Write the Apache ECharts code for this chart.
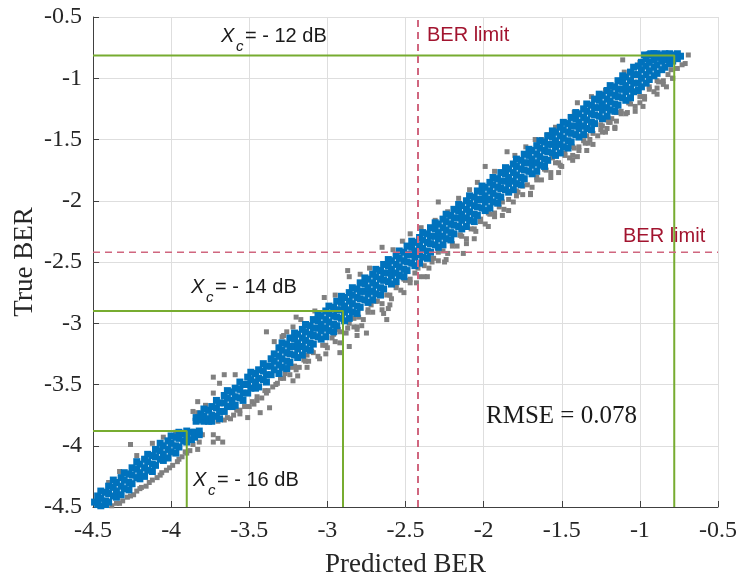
<!DOCTYPE html>
<html>
<head>
<meta charset="utf-8">
<script src="https://cdn.jsdelivr.net/npm/echarts@6/dist/echarts.min.js"></script>
<style>
  html, body { margin: 0; padding: 0; background: #ffffff; }
  #chart { width: 741px; height: 575px; }
</style>
</head>
<body>
<div id="chart"></div>
<script>
// Axis range shared by both axes (log10 BER)
const axisMin = -4.5;
const axisMax = -0.5;
const axisStep = 0.5;

// Validation samples: each row is [predicted, true, true, ...] sharing one predicted value
const blueRows = [
  [-4.49, -4.46],
  [-4.47, -4.48, -4.41],
  [-4.45, -4.49, -4.43, -4.37],
  [-4.42, -4.48, -4.45, -4.38],
  [-4.40, -4.46, -4.39, -4.33],
  [-4.37, -4.41, -4.34, -4.28],
  [-4.35, -4.42, -4.37, -4.30],
  [-4.32, -4.40, -4.33, -4.26],
  [-4.30, -4.35, -4.28, -4.22],
  [-4.27, -4.36, -4.30, -4.23],
  [-4.25, -4.31, -4.24, -4.18],
  [-4.22, -4.26, -4.19, -4.13],
  [-4.20, -4.27, -4.22, -4.15],
  [-4.17, -4.25, -4.18, -4.11],
  [-4.15, -4.20, -4.13, -4.07],
  [-4.12, -4.21, -4.15, -4.08],
  [-4.10, -4.16, -4.09, -4.03],
  [-4.07, -4.11, -4.04, -3.98],
  [-4.05, -4.12, -4.07, -4.00],
  [-4.02, -4.10, -4.03, -3.96],
  [-4.00, -4.05, -3.98, -3.92],
  [-3.97, -4.06, -4.00, -3.93],
  [-3.95, -4.01, -3.94, -3.89],
  [-3.92, -3.96, -3.90],
  [-3.90, -3.97, -3.92, -3.88],
  [-3.87, -3.95, -3.89],
  [-3.85, -3.93, -3.89],
  [-3.82, -3.91, -3.88],
  [-3.84, -3.80, -3.77],
  [-3.81, -3.79, -3.74],
  [-3.79, -3.80, -3.76, -3.70],
  [-3.76, -3.80, -3.78, -3.71],
  [-3.74, -3.80, -3.75, -3.68],
  [-3.71, -3.76, -3.69, -3.63],
  [-3.69, -3.78, -3.72, -3.65],
  [-3.66, -3.72, -3.65, -3.59],
  [-3.64, -3.68, -3.61, -3.55],
  [-3.61, -3.68, -3.63, -3.56],
  [-3.59, -3.67, -3.60, -3.53],
  [-3.56, -3.61, -3.54, -3.48],
  [-3.54, -3.63, -3.57, -3.50],
  [-3.51, -3.57, -3.50, -3.44],
  [-3.49, -3.53, -3.46, -3.40],
  [-3.46, -3.53, -3.48, -3.41],
  [-3.44, -3.52, -3.45, -3.38],
  [-3.41, -3.46, -3.39, -3.33],
  [-3.39, -3.48, -3.42, -3.35],
  [-3.36, -3.42, -3.35, -3.29],
  [-3.34, -3.38, -3.31, -3.25],
  [-3.31, -3.41, -3.34, -3.27, -3.20],
  [-3.29, -3.36, -3.29, -3.22, -3.16],
  [-3.26, -3.37, -3.31, -3.24, -3.17],
  [-3.24, -3.32, -3.25, -3.19, -3.12],
  [-3.21, -3.26, -3.19, -3.13, -3.08],
  [-3.19, -3.28, -3.21, -3.16, -3.09],
  [-3.16, -3.26, -3.19, -3.12, -3.05],
  [-3.14, -3.21, -3.14, -3.07, -3.01],
  [-3.11, -3.22, -3.16, -3.09, -3.02],
  [-3.09, -3.17, -3.10, -3.04, -2.97],
  [-3.06, -3.11, -3.04, -2.98, -2.93],
  [-3.04, -3.13, -3.06, -3.01, -2.94],
  [-3.01, -3.11, -3.04, -2.97, -2.90],
  [-2.99, -3.06, -2.99, -2.92, -2.86],
  [-2.96, -3.07, -3.01, -2.94, -2.87],
  [-2.94, -3.02, -2.95, -2.89, -2.82],
  [-2.91, -2.96, -2.89, -2.83, -2.78],
  [-2.89, -2.98, -2.91, -2.86, -2.79],
  [-2.86, -2.96, -2.89, -2.82, -2.75],
  [-2.84, -2.91, -2.84, -2.77, -2.71],
  [-2.81, -2.92, -2.86, -2.79, -2.72],
  [-2.79, -2.87, -2.80, -2.74, -2.67],
  [-2.76, -2.81, -2.74, -2.68, -2.63],
  [-2.74, -2.83, -2.76, -2.71, -2.64],
  [-2.71, -2.81, -2.74, -2.67, -2.60],
  [-2.69, -2.76, -2.69, -2.62, -2.56],
  [-2.66, -2.77, -2.71, -2.64, -2.57],
  [-2.64, -2.72, -2.65, -2.59, -2.52],
  [-2.61, -2.66, -2.59, -2.53, -2.48],
  [-2.59, -2.68, -2.61, -2.56, -2.49],
  [-2.56, -2.66, -2.59, -2.52, -2.45],
  [-2.54, -2.61, -2.54, -2.47, -2.41],
  [-2.51, -2.62, -2.56, -2.49, -2.42],
  [-2.49, -2.57, -2.50, -2.44, -2.37],
  [-2.46, -2.51, -2.44, -2.38, -2.33],
  [-2.44, -2.53, -2.46, -2.41, -2.34],
  [-2.41, -2.51, -2.44, -2.37, -2.30],
  [-2.39, -2.46, -2.39, -2.32, -2.26],
  [-2.36, -2.47, -2.41, -2.34, -2.27],
  [-2.34, -2.42, -2.35, -2.29, -2.22],
  [-2.31, -2.36, -2.29, -2.23, -2.18],
  [-2.29, -2.38, -2.31, -2.26, -2.19],
  [-2.26, -2.36, -2.29, -2.22, -2.15],
  [-2.24, -2.31, -2.24, -2.17, -2.11],
  [-2.21, -2.32, -2.26, -2.19, -2.12],
  [-2.19, -2.27, -2.20, -2.14, -2.07],
  [-2.16, -2.21, -2.14, -2.08, -2.03],
  [-2.14, -2.23, -2.16, -2.11, -2.04],
  [-2.11, -2.21, -2.14, -2.07, -2.00],
  [-2.09, -2.16, -2.09, -2.02, -1.96],
  [-2.06, -2.17, -2.11, -2.04, -1.97],
  [-2.04, -2.12, -2.05, -1.99, -1.92],
  [-2.01, -2.06, -1.99, -1.93, -1.88],
  [-1.99, -2.08, -2.01, -1.96, -1.89],
  [-1.96, -2.06, -1.99, -1.92, -1.85],
  [-1.94, -2.01, -1.94, -1.87, -1.81],
  [-1.91, -2.02, -1.96, -1.89, -1.82],
  [-1.89, -1.97, -1.90, -1.84, -1.77],
  [-1.86, -1.91, -1.84, -1.78, -1.73],
  [-1.84, -1.93, -1.86, -1.81, -1.74],
  [-1.81, -1.91, -1.84, -1.77, -1.70],
  [-1.79, -1.86, -1.79, -1.72, -1.66],
  [-1.76, -1.87, -1.81, -1.74, -1.67],
  [-1.74, -1.82, -1.75, -1.69, -1.62],
  [-1.71, -1.76, -1.69, -1.63, -1.58],
  [-1.69, -1.78, -1.71, -1.66, -1.59],
  [-1.66, -1.76, -1.69, -1.62, -1.55],
  [-1.64, -1.71, -1.64, -1.57, -1.51],
  [-1.61, -1.72, -1.66, -1.59, -1.52],
  [-1.59, -1.67, -1.60, -1.54, -1.47],
  [-1.56, -1.61, -1.54, -1.48, -1.43],
  [-1.54, -1.63, -1.56, -1.51, -1.44],
  [-1.51, -1.61, -1.54, -1.47, -1.40],
  [-1.49, -1.56, -1.49, -1.42, -1.36],
  [-1.46, -1.57, -1.51, -1.44, -1.37],
  [-1.44, -1.52, -1.45, -1.39, -1.32],
  [-1.41, -1.46, -1.39, -1.33, -1.28],
  [-1.39, -1.48, -1.41, -1.36, -1.29],
  [-1.36, -1.46, -1.39, -1.32, -1.25],
  [-1.34, -1.41, -1.34, -1.27, -1.21],
  [-1.31, -1.42, -1.36, -1.29, -1.22],
  [-1.29, -1.37, -1.30, -1.24, -1.17],
  [-1.26, -1.31, -1.24, -1.18, -1.13],
  [-1.24, -1.33, -1.26, -1.21, -1.14],
  [-1.21, -1.31, -1.24, -1.17, -1.10],
  [-1.19, -1.26, -1.19, -1.12, -1.06],
  [-1.16, -1.27, -1.21, -1.14, -1.07],
  [-1.14, -1.22, -1.15, -1.09, -1.02],
  [-1.11, -1.16, -1.09, -1.03, -0.98],
  [-1.09, -1.18, -1.11, -1.06, -0.99],
  [-1.06, -1.16, -1.09, -1.02, -0.95],
  [-1.04, -1.11, -1.04, -0.97, -0.91],
  [-1.01, -1.10, -1.04, -0.97, -0.90],
  [-0.99, -1.07, -1.00, -0.93, -0.87],
  [-0.97, -0.81],
  [-0.96, -1.04, -0.97, -0.90, -0.84],
  [-0.94, -1.01, -0.94, -0.87, -0.81],
  [-0.93, -0.80],
  [-0.91, -0.98, -0.91, -0.85, -0.80],
  [-0.89, -0.96, -0.89, -0.83, -0.80],
  [-0.86, -0.93, -0.86, -0.81],
  [-0.84, -0.91, -0.85, -0.80],
  [-0.81, -0.88, -0.83, -0.80],
  [-0.79, -0.86, -0.81],
  [-0.76, -0.84, -0.80],
  [-0.74, -0.82]
];

// Full test set: [predicted, true]
const grayPoints = [
  [-4.38, -4.49], [-4.35, -4.47], [-4.31, -4.45], [-4.28, -4.42], [-4.24, -4.40],
  [-4.20, -4.35], [-4.19, -4.34], [-4.16, -4.33], [-4.12, -4.28], [-4.09, -4.26],
  [-4.06, -4.22], [-4.01, -4.18], [-3.99, -4.16], [-3.96, -4.13], [-3.93, -4.09],
  [-3.90, -4.06], [-3.88, -4.04], [-3.86, -3.99], [-3.83, -4.03], [-3.82, -3.97],
  [-3.80, -3.91], [-3.73, -3.91], [-3.73, -3.97], [-3.70, -3.94], [-3.67, -3.97],
  [-4.33, -4.47], [-4.26, -4.41], [-4.22, -4.37], [-4.14, -4.30], [-4.07, -4.24],
  [-4.03, -4.20], [-3.95, -4.11], [-3.91, -4.05],
  [-4.40, -4.30], [-4.33, -4.21], [-4.26, -3.99], [-4.22, -4.08], [-4.12, -3.98],
  [-4.05, -3.93], [-3.97, -3.89],
  [-3.73, -3.44], [-3.66, -3.42], [-3.59, -3.42], [-3.69, -3.49], [-3.73, -3.57],
  [-3.83, -3.64], [-3.78, -3.67], [-3.86, -3.72], [-3.83, -3.73], [-3.43, -3.73],
  [-3.51, -3.77], [-3.37, -3.69], [-3.62, -3.78], [-3.56, -3.74], [-3.48, -3.64],
  [-3.45, -3.60], [-3.40, -3.55], [-3.35, -3.52], [-3.53, -3.68], [-3.58, -3.71],
  [-3.66, -3.79], [-3.70, -3.80], [-3.56, -3.71], [-3.45, -3.63], [-3.39, -3.57],
  [-3.32, -3.49], [-3.50, -3.68],
  [-3.64, -3.77], [-3.60, -3.75], [-3.47, -3.66], [-3.42, -3.61], [-3.38, -3.55],
  [-3.33, -3.50],
  [-3.39, -3.07], [-3.34, -3.15], [-3.29, -3.11], [-3.26, -3.07], [-3.22, -3.03],
  [-3.20, -2.95], [-3.13, -3.36], [-3.20, -3.38], [-2.86, -3.19], [-2.81, -3.03],
  [-2.64, -2.92], [-2.62, -2.97], [-2.92, -3.24],
  [-3.30, -3.45], [-3.27, -3.41], [-3.24, -3.42], [-3.21, -3.35], [-3.18, -3.36],
  [-3.15, -3.30], [-3.12, -3.31], [-3.09, -3.24], [-3.06, -3.27], [-3.03, -3.18],
  [-3.00, -3.20], [-2.97, -3.12], [-2.95, -3.15], [-2.92, -3.07], [-2.88, -3.08],
  [-2.86, -3.00], [-2.83, -3.03], [-2.80, -2.95], [-2.77, -2.97], [-2.74, -2.89],
  [-2.71, -2.91], [-2.68, -2.82], [-2.65, -2.84], [-2.62, -2.77], [-2.59, -2.80],
  [-2.56, -2.71], [-2.53, -2.73], [-2.50, -2.65], [-2.47, -2.67], [-2.44, -2.59],
  [-2.41, -2.62], [-2.38, -2.53], [-2.35, -2.55], [-2.32, -2.47], [-2.29, -2.49],
  [-2.26, -2.41], [-2.23, -2.43], [-2.20, -2.35], [-2.17, -2.37], [-2.14, -2.29],
  [-2.11, -2.31], [-2.08, -2.23], [-2.05, -2.25], [-2.02, -2.17], [-1.99, -2.19],
  [-1.96, -2.11], [-1.93, -2.13], [-1.90, -2.05], [-1.87, -2.07], [-1.84, -1.99],
  [-1.81, -2.01], [-1.78, -1.93], [-1.75, -1.95], [-1.72, -1.87], [-1.69, -1.89],
  [-1.66, -1.81], [-1.63, -1.83], [-1.60, -1.75], [-1.57, -1.77], [-1.54, -1.69],
  [-1.51, -1.71], [-1.48, -1.63], [-1.45, -1.65], [-1.42, -1.57], [-1.39, -1.59],
  [-1.36, -1.51], [-1.33, -1.53], [-1.30, -1.45], [-1.27, -1.47], [-1.24, -1.39],
  [-1.21, -1.41], [-1.18, -1.33], [-1.15, -1.35], [-1.12, -1.27], [-1.09, -1.29],
  [-1.06, -1.21], [-1.03, -1.23], [-1.00, -1.15], [-0.97, -1.17], [-0.94, -1.09],
  [-0.91, -1.11], [-0.88, -1.03], [-0.85, -1.05], [-0.82, -0.97], [-0.79, -1.00],
  [-0.76, -0.92], [-0.73, -0.89],
  [-3.28, -3.45], [-3.23, -3.36], [-3.19, -3.43], [-3.14, -3.31], [-3.10, -3.23],
  [-3.05, -3.29], [-3.01, -3.18], [-2.96, -3.09], [-2.92, -3.16], [-2.87, -3.04],
  [-2.83, -2.96], [-2.78, -3.02], [-2.74, -2.91], [-2.69, -2.82], [-2.65, -2.89],
  [-2.60, -2.77], [-2.56, -2.69], [-2.51, -2.75], [-2.47, -2.64], [-2.42, -2.55],
  [-2.38, -2.62], [-2.33, -2.50], [-2.29, -2.42], [-2.24, -2.48], [-2.20, -2.37],
  [-2.15, -2.28], [-2.11, -2.35], [-2.06, -2.23], [-2.02, -2.15], [-1.97, -2.21],
  [-1.93, -2.10], [-1.88, -2.01], [-1.84, -2.08], [-1.79, -1.96], [-1.75, -1.88],
  [-1.70, -1.94], [-1.66, -1.83], [-1.61, -1.74], [-1.57, -1.81], [-1.52, -1.69],
  [-1.48, -1.61], [-1.43, -1.67], [-1.39, -1.56], [-1.34, -1.47], [-1.30, -1.54],
  [-1.25, -1.42], [-1.21, -1.34], [-1.16, -1.40], [-1.12, -1.29], [-1.07, -1.20],
  [-1.03, -1.27], [-0.98, -1.15], [-0.94, -1.07], [-0.89, -1.13], [-0.85, -1.02],
  [-0.80, -0.93],
  [-3.22, -3.47], [-3.13, -3.26], [-3.01, -3.25], [-2.93, -3.05], [-2.81, -3.05],
  [-2.72, -2.85], [-2.60, -2.85], [-2.51, -2.64], [-2.43, -2.67], [-2.34, -2.47],
  [-2.25, -2.50], [-2.15, -2.28], [-2.06, -2.31], [-1.97, -2.10], [-1.88, -2.12],
  [-1.79, -1.92], [-1.70, -1.95], [-1.61, -1.74], [-1.52, -1.77], [-1.43, -1.56],
  [-1.34, -1.59], [-1.25, -1.38], [-1.16, -1.41], [-1.07, -1.20], [-0.98, -1.23],
  [-0.89, -1.02], [-0.83, -1.07],
  [-2.36, -2.62], [-2.13, -2.43], [-2.75, -3.08], [-2.61, -2.88], [-2.81, -3.10],
  [-1.24, -1.44], [-1.20, -1.36], [-1.15, -1.28], [-1.32, -1.50], [-1.43, -1.63],
  [-1.40, -1.64], [-1.50, -1.72], [-1.56, -1.65],
  [-3.28, -3.10], [-3.17, -2.97], [-3.08, -2.90], [-3.02, -2.79], [-2.95, -2.77],
  [-2.87, -2.57], [-2.86, -2.62], [-2.79, -2.60], [-2.73, -2.55], [-2.65, -2.38],
  [-2.58, -2.40], [-2.52, -2.33], [-2.47, -2.27], [-2.40, -2.22], [-2.31, -2.16],
  [-2.29, -2.01], [-2.23, -2.09], [-2.16, -1.98], [-2.09, -1.91], [-2.04, -1.85],
  [-1.99, -1.72], [-1.93, -1.76], [-1.85, -1.60], [-1.80, -1.63], [-1.73, -1.56],
  [-1.67, -1.50], [-1.63, -1.50], [-1.59, -1.46], [-1.54, -1.40], [-1.48, -1.36],
  [-1.42, -1.28], [-1.40, -1.20], [-1.31, -1.15], [-1.22, -1.10], [-1.19, -1.11],
  [-1.11, -0.85], [-1.10, -0.95], [-1.00, -0.87], [-0.94, -0.80],
  [-0.69, -0.81], [-0.71, -0.88], [-0.79, -1.00], [-0.89, -1.08], [-0.97, -1.15],
  [-1.00, -1.20], [-1.08, -1.28], [-1.19, -1.36], [-1.22, -1.44], [-1.35, -1.53]
];

// Highest predicted / true BER reached at each OSNR cut-off
const cornerPred = [-0.78, -2.90, -3.90];
const cornerTrue = [-0.815, -2.90, -3.88];
const cornerLabels = ['= - 12 dB', '= - 14 dB', '= - 16 dB'];

// FEC threshold (log10 of 3.8e-3) and fit quality
const berLimit = -2.42;
const berLimitLabel = 'BER limit';
const rmseValue = 0.078;

const blueData = [];
blueRows.forEach(function (row) {
  for (let i = 1; i < row.length; i++) blueData.push([row[0], row[i]]);
});

const green = '#77AC30';
const limitLine = '#d0667f';
const limitText = '#A2142F';
const sans = '"Liberation Sans", Arial, sans-serif';
const serif = '"Liberation Serif", "Times New Roman", serif';

const series = [
  {
    type: 'scatter', data: grayPoints, symbol: 'rect', symbolSize: 5,
    itemStyle: { color: '#808080', opacity: 1 }, silent: true, z: 2
  },
  {
    type: 'scatter', data: blueData, symbol: 'rect', symbolSize: 7,
    itemStyle: { color: '#0072BD', opacity: 1 }, silent: true, z: 3
  }
];

cornerPred.forEach(function (p, i) {
  series.push({
    type: 'line', symbol: 'none', silent: true, z: 4,
    data: [[axisMin, cornerTrue[i]], [p, cornerTrue[i]], [p, axisMin]],
    lineStyle: { color: green, width: 2 }
  });
});

series.push({
  type: 'line', symbol: 'none', silent: true, z: 5,
  data: [[berLimit, axisMin], [berLimit, axisMax]],
  lineStyle: { color: limitLine, width: 2, type: [7, 5] }
});
series.push({
  type: 'line', symbol: 'none', silent: true, z: 5,
  data: [[axisMin, berLimit], [axisMax, berLimit]],
  lineStyle: { color: limitLine, width: 1.5, type: [7, 5] }
});

function txt(str, x, y, size, opts) {
  opts = opts || {};
  return {
    type: 'text', z: 10, silent: true,
    style: {
      text: str, x: x, y: y,
      fontSize: size, fontFamily: opts.family || sans,
      fontStyle: opts.italic ? 'italic' : 'normal',
      fill: opts.color || '#1a1a1a',
      align: 'left', verticalAlign: 'middle',
      textAlign: 'left', textVerticalAlign: 'middle'
    }
  };
}

// Cut-off annotations: italic X with subscript c, then the value
const xcPos = [[221, 36], [191, 287], [193, 480]];
const graphics = [];
cornerLabels.forEach(function (lab, i) {
  const x = xcPos[i][0], y = xcPos[i][1];
  graphics.push(txt('X', x, y, 20, { italic: true }));
  graphics.push(txt('c', x + 15, y + 11, 15, { italic: true }));
  graphics.push(txt(lab, x + 24, y, 20));
});
graphics.push(txt(berLimitLabel, 427, 35, 20, { color: limitText }));
graphics.push(txt(berLimitLabel, 623, 236, 20, { color: limitText }));
graphics.push(txt('RMSE = ' + rmseValue.toFixed(3), 486, 416, 25, { family: serif }));

const axisCommon = {
  type: 'value', min: axisMin, max: axisMax, interval: axisStep,
  axisLine: { show: true, onZero: false, lineStyle: { color: '#404040', width: 1 } },
  axisTick: { show: true, inside: true, length: 6, lineStyle: { color: '#404040' } },
  splitLine: { show: true, lineStyle: { color: '#dedede', width: 1 } },
  nameLocation: 'middle',
  nameTextStyle: { fontFamily: serif, fontSize: 27, color: '#262626' }
};

const chart = echarts.init(document.getElementById('chart'), null, { renderer: 'canvas' });
chart.setOption({
  animation: false,
  backgroundColor: '#ffffff',
  grid: { left: 93, right: 23, top: 17, bottom: 68, containLabel: false, outerBoundsMode: 'none' },
  xAxis: Object.assign({}, axisCommon, {
    name: 'Predicted BER', nameGap: 44,
    axisLabel: { fontFamily: serif, fontSize: 24, color: '#262626', margin: 12 }
  }),
  yAxis: Object.assign({}, axisCommon, {
    name: 'True BER', nameGap: 55, nameMoveOverlap: false,
    axisLabel: { fontFamily: serif, fontSize: 24, color: '#262626', margin: 11 }
  }),
  series: series,
  graphic: graphics
});
</script>
</body>
</html>
